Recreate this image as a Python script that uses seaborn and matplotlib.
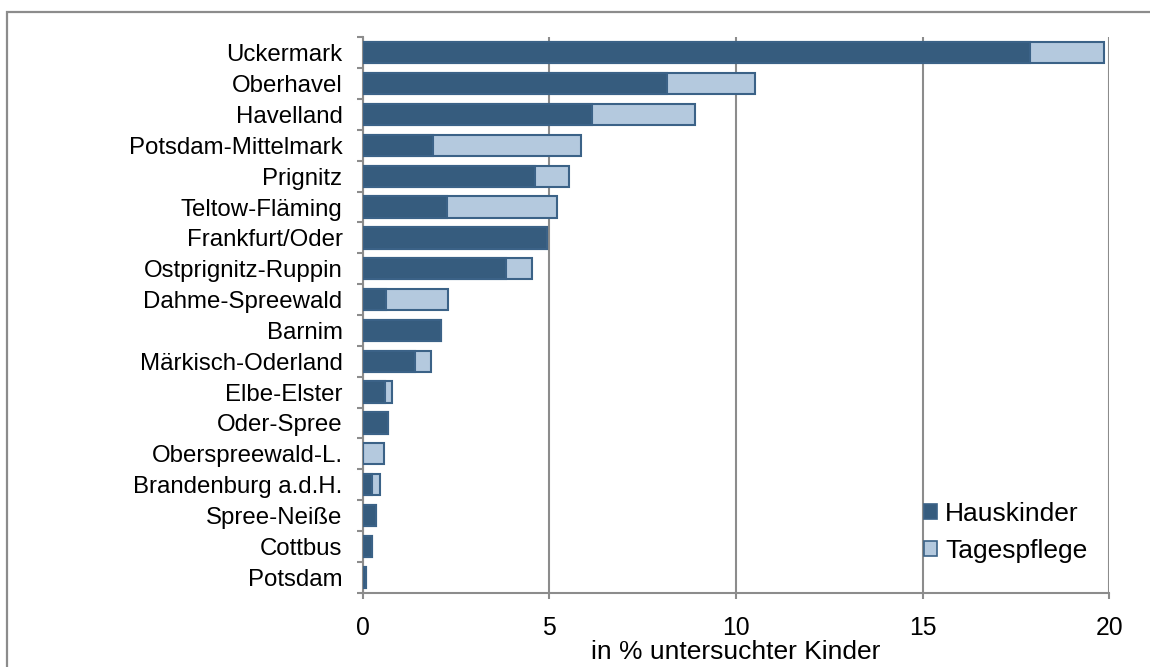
import matplotlib
matplotlib.use("Agg")
import matplotlib.pyplot as plt
import numpy as np
import pandas as pd
import seaborn as sns
from matplotlib.patches import Patch, Rectangle

# Landkreise / kreisfreie Städte (von oben nach unten)
kreise = [
    "Uckermark", "Oberhavel", "Havelland", "Potsdam-Mittelmark", "Prignitz",
    "Teltow-Fläming", "Frankfurt/Oder", "Ostprignitz-Ruppin", "Dahme-Spreewald",
    "Barnim", "Märkisch-Oderland", "Elbe-Elster", "Oder-Spree", "Oberspreewald-L.",
    "Brandenburg a.d.H.", "Spree-Neiße", "Cottbus", "Potsdam",
]
hauskinder = [17.86, 8.14, 6.13, 1.88, 4.62, 2.25, 4.93, 3.83, 0.62,
              2.11, 1.39, 0.59, 0.69, 0.0, 0.24, 0.36, 0.25, 0.09]
tagespflege = [2.00, 2.36, 2.78, 3.98, 0.90, 2.95, 0.0, 0.70, 1.66,
               0.0, 0.45, 0.19, 0.0, 0.58, 0.23, 0.0, 0.0, 0.0]
xticks = [0, 5, 10, 15, 20]

DARK = "#365c7e"
LIGHT = "#b4c9de"
EDGE = "#3b6287"
GRID = "#8c8c8c"

df = pd.DataFrame({"kreis": kreise, "hauskinder": hauskinder, "tagespflege": tagespflege})
df["gesamt"] = df["hauskinder"] + df["tagespflege"]

sns.set_theme(style="white")
plt.rcParams["font.family"] = ["Liberation Sans", "DejaVu Sans"]

fig = plt.figure(figsize=(11.5, 6.67), dpi=100)
ax = fig.add_axes([362.7 / 1150, 1 - 592.7 / 667, (1109.4 - 362.7) / 1150, (592.7 - 37.3) / 667])

# gestapelt: erst Gesamt (hell), dann Hauskinder (dunkel) darüber
sns.barplot(data=df, y="kreis", x="gesamt", order=kreise, color=LIGHT, saturation=1,
            width=0.69, edgecolor=EDGE, linewidth=1.5, ax=ax, zorder=3)
sns.barplot(data=df, y="kreis", x="hauskinder", order=kreise, color=DARK, saturation=1,
            width=0.69, edgecolor=EDGE, linewidth=1.5, ax=ax, zorder=4)

ax.set_xlim(0, 20)
ax.set_ylim(len(kreise) - 0.5, -0.5)
ax.set_xticks(xticks)
ax.set_xticklabels([str(t) for t in xticks])
ax.xaxis.grid(True, color=GRID, linewidth=1.5, zorder=0)
ax.set_axisbelow(True)

for side in ["top", "right"]:
    ax.spines[side].set_visible(False)
for side in ["left", "bottom"]:
    ax.spines[side].set_color(GRID)
    ax.spines[side].set_linewidth(1.5)

ax.set_yticks(np.arange(-0.5, len(kreise), 1.0), minor=True)
ax.tick_params(axis="y", which="major", length=0, pad=14.5, labelsize=17.3, labelcolor="black")
ax.tick_params(axis="y", which="minor", left=True, length=4, width=1.5, color=GRID)
ax.tick_params(axis="x", which="major", bottom=True, length=4.5, width=1.5, color=GRID,
               pad=12, labelsize=17.8, labelcolor="black")

ax.set_ylabel("")
ax.set_xlabel("in % untersuchter Kinder", fontsize=19, color="black", labelpad=0.3)

handles = [Patch(facecolor=DARK, edgecolor=EDGE, linewidth=1.2, label="Hauskinder"),
           Patch(facecolor=LIGHT, edgecolor=EDGE, linewidth=1.2, label="Tagespflege")]
fig.legend(handles=handles, loc="upper left", bbox_to_anchor=(924 / 1150, 1 - 502 / 667),
           frameon=False, fontsize=19, labelcolor="black", handlelength=0.5, handleheight=0.5,
           handletextpad=0.3, labelspacing=0.5, borderpad=0, borderaxespad=0)

# äußerer Rahmen (läuft rechts/unten über den Bildrand hinaus)
fig.patches.append(Rectangle((7 / 1150, -0.2), 1.2, 1 - 12 / 667 + 0.2,
                             transform=fig.transFigure, fill=False,
                             edgecolor=GRID, linewidth=1.6, clip_on=False))

fig.savefig("out.png", dpi=100, facecolor="white")
